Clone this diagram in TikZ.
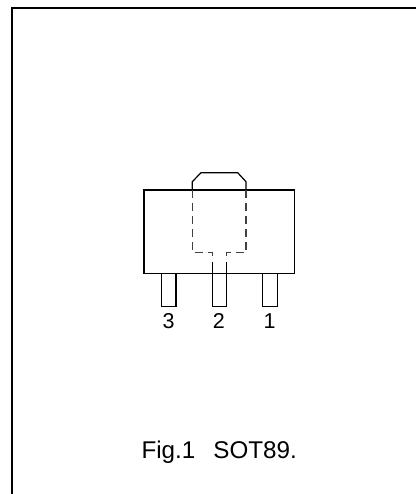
\documentclass[tikz,border=0pt]{standalone}
\usepackage{fontspec}
\setmainfont{Liberation Sans}
\begin{document}
\begin{tikzpicture}[x=1pt,y=-1pt,
  solidline/.style={draw=black,line width=1.2pt,line join=miter},
  hidden/.style={draw=black!75,line width=1.1pt,dash pattern=on 8pt off 5pt},
  lbl/.style={font=\fontsize{21.5}{24}\selectfont,inner sep=0pt,anchor=base},
  captionlbl/.style={font=\fontsize{24.2}{26}\selectfont,inner sep=0pt,anchor=base west}]
\useasboundingbox (0,0) rectangle (416,494);
% frame
\coordinate (ftr) at (416,8);
\coordinate (ftl) at (12,8);
\coordinate (fbl) at (12,494);
\draw[solidline] (ftr) -- (ftl) -- (fbl);
% body
\draw[solidline] (144,190) rectangle (294.5,273.5);
% tab
\draw[solidline] (192.3,190) -- (192.3,181.7) -- (201,172.7) -- (237.7,172.7) -- (246,181.7) -- (246,190);
% hidden
\draw[hidden] (192.3,190) -- (192.3,252.7) -- (212.3,252.7) -- (212.3,260);
\draw[hidden] (246,190) -- (246,252.7) -- (226.3,252.7) -- (226.3,260);
\draw[solidline,line width=1pt] (212.3,262) -- (212.3,273.5) (226.3,262) -- (226.3,273.5);
% leads
\draw[solidline] (161.3,273.5) -- (161.3,306.7) -- (176,306.7) -- (176,273.5);
\draw[solidline] (212.3,273.5) -- (212.3,306.7) -- (226.3,306.7) -- (226.3,273.5);
\draw[solidline] (262.7,273.5) -- (262.7,306.7) -- (277.3,306.7) -- (277.3,273.5);
% labels
\node[lbl] (p3) at (168.7,328.7) {3};
\node[lbl] (p2) at (218.8,328.7) {2};
\node[lbl] (p1) at (269.5,328.7) {1};
\node[captionlbl] (cap) at (141.3,458) {Fig.1\hspace{0.75em}SOT89.};
\end{tikzpicture}
\end{document}
